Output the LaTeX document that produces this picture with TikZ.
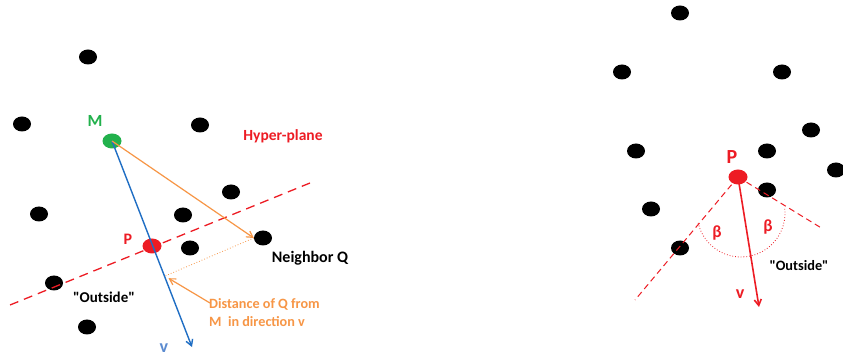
\documentclass[tikz,border=0pt]{standalone}
\usepackage{fontspec}
\setmainfont{Carlito}
\usetikzlibrary{arrows.meta,calc,shapes.geometric}
\definecolor{pred}{RGB}{237,28,36}
\definecolor{pgreen}{RGB}{34,177,76}
\definecolor{porange}{RGB}{247,150,70}
\definecolor{pblue}{RGB}{31,110,196}
\definecolor{plblue}{RGB}{91,139,208}
\begin{document}
\begin{tikzpicture}[x=1pt,y=1pt,
  dot/.style={ellipse,fill=black,minimum width=18pt,minimum height=15pt,inner sep=0pt},
  pt/.style={ellipse,minimum width=19pt,minimum height=15pt,inner sep=0pt},
  lbl/.style={font=\bfseries\fontsize{15}{17}\selectfont,inner sep=0pt},
  fs/.style={font=\bfseries\fontsize{#1}{#1}\selectfont},
  barb/.style={-{Straight Barb[length=6pt,width=7pt]}}]
\useasboundingbox (0,0) rectangle (843,356);
\fill[white] (0,0) rectangle (843,356);
% ---------- left diagram ----------
\foreach \n/\x/\y in {a/88/299,b/22/232,c/200/231,d/231/164,e/39/142,f/183/141,g/190/108,Q/263/118,h/54/73,i/87/29}
  \node[dot] (\n) at (\x,\y) {};
\node[pt,fill=pgreen] (M) at (112,215) {};
\node[pt,fill=pred] (P) at (152,110) {};
\coordinate (hp1) at (10,51);
\coordinate (hp2) at (310,173);
\coordinate (vend) at (192,9);
\draw[pred,line width=1.3pt,dash pattern=on 9pt off 6pt] (hp1) -- (hp2);
\draw[pblue,line width=1.4pt,barb] (M.center) -- (vend);
\draw[porange,line width=1.2pt,barb] (M.center) -- (Q.west);
\coordinate (foot) at ($(M.center)!(Q.center)!(vend)$);
\draw[porange,line width=0.8pt,dotted] (Q.west) -- (foot);
\node[lbl,pgreen,fs=17] (lM) at (95,235) {M};
\node[lbl,pred,fs=16] (lP) at (128,117) {P};
\node[lbl,plblue,fs=18] (lv) at (164,8) {v};
\node[lbl,pred,fs=15.5] (lH) at (283,220) {Hyper-plane};
\node[lbl,fs=16] (lQ) at (310,98) {Neighbor Q};
\node[lbl,fs=15] (lO) at (104,59) {\textquotedbl Outside\textquotedbl};
\node[lbl,porange,align=left,anchor=north west,font=\bfseries\fontsize{14.2}{18}\selectfont] (lD) at (209,58) {Distance of Q from\\M\ \ in direction v};
\coordinate (dstart) at (210,53);
\draw[porange,line width=1.2pt,barb] (dstart) -- ($(foot)+(4,-2)$);
% ---------- right diagram ----------
\foreach \n/\x/\y in {ra/680/343,rb/622/284,rc/782/284,rd/811/226,re/636/205,rf/767/205,rg/836/186,rh/767/166,ri/651/147,rj/680/108}
  \node[dot] (\n) at (\x,\y) {};
\node[pt,fill=pred] (RP) at (738,179) {};
\coordinate (rl) at (635,56);
\coordinate (rr) at (823,127);
\coordinate (rv) at (759,49);
\draw[pred,line width=1pt,dash pattern=on 6pt off 4pt] (RP.center) -- (rl);
\draw[pred,line width=1pt,dash pattern=on 6pt off 4pt] (RP.center) -- (rr);
\draw[pred,line width=1.6pt,barb] (RP.center) -- (rv);
\draw[pred,line width=0.8pt,dotted] ($(741,143)+(193:44)$) arc[start angle=193,end angle=366,radius=44];
\node[lbl,pred,fs=20] (rlP) at (732,199) {P};
\node[lbl,pred,fs=18] (rlv) at (740,62) {v};
\node[lbl,pred,fs=17] (b1) at (717,123) {β};
\node[lbl,pred,fs=17] (b2) at (768,129) {β};
\node[lbl,fs=14.3] (rlO) at (799,90) {\textquotedbl Outside\textquotedbl};
\end{tikzpicture}
\end{document}
